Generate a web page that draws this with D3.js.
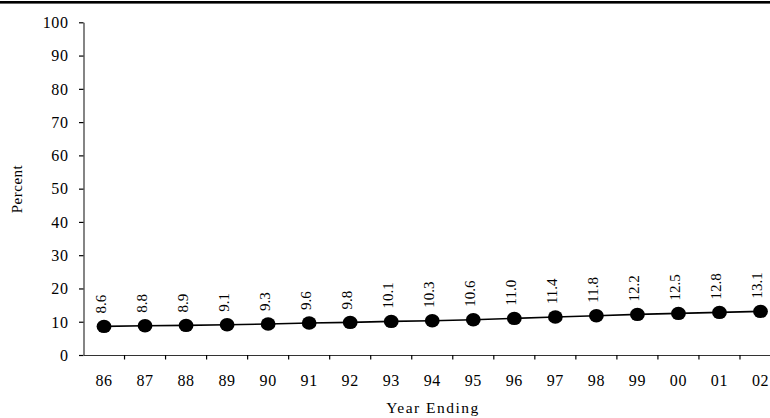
<!DOCTYPE html>
<html>
<head>
<meta charset="utf-8">
<script src="https://cdn.jsdelivr.net/npm/d3@7"></script>
<style>
  html, body { margin: 0; padding: 0; background: #fff; }
  svg { display: block; font-family: "Liberation Serif", "Times New Roman", serif; }
</style>
</head>
<body>
<svg id="chart" width="770" height="418"></svg>
<script>
const years = ["86","87","88","89","90","91","92","93","94","95","96","97","98","99","00","01","02"];
const percents = [8.6, 8.8, 8.9, 9.1, 9.3, 9.6, 9.8, 10.1, 10.3, 10.6, 11.0, 11.4, 11.8, 12.2, 12.5, 12.8, 13.1];
const yTicks = [0, 10, 20, 30, 40, 50, 60, 70, 80, 90, 100];
const yLabel = "Percent";
const xLabel = "Year Ending";

const svg = d3.select("#chart");
const W = 770, H = 418;
const left = 83.5, bandW = 41.03;
const x = d3.scaleBand().domain(years).range([left, left + bandW * years.length]).padding(0);
const y = d3.scaleLinear().domain([0, 100]).range([355, 22.3]);
const axisColor = "#333";

// top rule
svg.append("rect").attr("x", 0).attr("y", 1).attr("width", W).attr("height", 2.6).attr("fill", "#000");

// y axis
const gy = svg.append("g").attr("transform", `translate(${left},0)`)
  .call(d3.axisLeft(y).tickValues(yTicks).tickSize(4.5).tickPadding(10.5).tickSizeOuter(0));
gy.select(".domain").attr("stroke", axisColor).attr("stroke-width", 1.2);
gy.selectAll(".tick line").attr("stroke", "#000").attr("stroke-width", 1.2);
gy.selectAll(".tick text").attr("font-size", 16).attr("fill", "#000")
  .attr("font-family", "Liberation Serif").attr("letter-spacing", 0.6).attr("dy", "0.33em");

// x axis (labels)
const gx = svg.append("g").attr("transform", `translate(0,${y(0)})`)
  .call(d3.axisBottom(x).tickSize(0).tickPadding(19.5).tickSizeOuter(0));
gx.select(".domain").attr("stroke", axisColor).attr("stroke-width", 1.2);
gx.selectAll(".tick text").attr("font-size", 16).attr("fill", "#000")
  .attr("font-family", "Liberation Serif").attr("letter-spacing", 0.6);
// x ticks at category boundaries
const bounds = years.map(d => x(d)).concat([x(years[years.length - 1]) + x.bandwidth()]);
svg.append("g").selectAll("line").data(bounds.slice(1)).join("line")
  .attr("x1", d => d).attr("x2", d => d)
  .attr("y1", y(0)).attr("y2", y(0) + 4.5)
  .attr("stroke", "#000").attr("stroke-width", 1.2);

// line
const cx = d => x(d) + x.bandwidth() / 2;
const data = years.map((d, i) => ({ year: d, v: percents[i] }));
svg.append("path").datum(data)
  .attr("fill", "none").attr("stroke", "#000").attr("stroke-width", 1.6)
  .attr("d", d3.line().x(d => cx(d.year)).y(d => y(d.v)));

// markers
svg.append("g").selectAll("ellipse").data(data).join("ellipse")
  .attr("cx", d => cx(d.year)).attr("cy", d => y(d.v))
  .attr("rx", 7.4).attr("ry", 6.7).attr("fill", "#000");

// value labels (rotated)
svg.append("g").selectAll("text").data(data).join("text")
  .attr("transform", d => `translate(${cx(d.year) + 1.5},${y(d.v) - 13}) rotate(-90)`)
  .attr("text-anchor", "start")
  .attr("font-size", 15).attr("fill", "#000")
  .text(d => d.v.toFixed(1));

// axis titles
svg.append("text")
  .attr("transform", `translate(22,189) rotate(-90)`)
  .attr("text-anchor", "middle").attr("font-size", 15).attr("letter-spacing", 0.5)
  .text(yLabel);
svg.append("text")
  .attr("x", 433).attr("y", 413)
  .attr("text-anchor", "middle").attr("font-size", 15.5).attr("letter-spacing", 1.5)
  .text(xLabel);
</script>
</body>
</html>
